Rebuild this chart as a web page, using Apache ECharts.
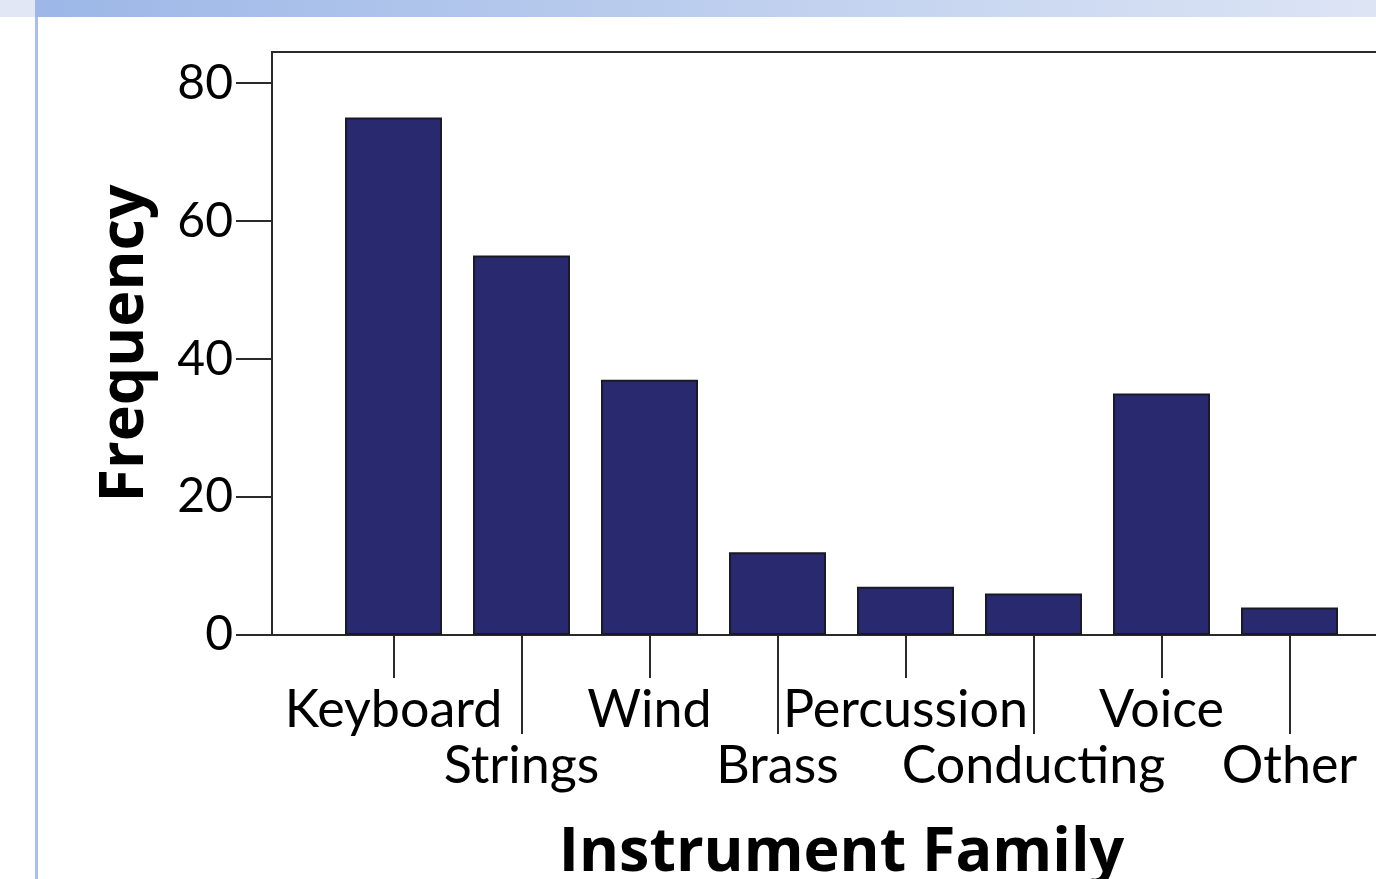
<!DOCTYPE html>
<html>
<head>
<meta charset="utf-8">
<title>Instrument Family</title>
<script src="https://cdn.jsdelivr.net/npm/echarts@6.0.0/dist/echarts.min.js"></script>
<style>
  html, body { margin: 0; padding: 0; background: #fff; }
  #page { position: relative; width: 1376px; height: 879px; overflow: hidden; }
  #band-left { position: absolute; left: 0; top: 0; width: 35px; height: 17px; background: #e1e7f5; }
  #band { position: absolute; left: 35px; top: 0; right: 0; height: 17px;
          background: linear-gradient(to right, #9cb7e7, #dde5f5); }
  #edge { position: absolute; left: 35px; top: 17px; width: 3px; bottom: 0; background: #a7bfea; }
  #chart { position: absolute; left: 0; top: 0; width: 1376px; height: 879px; }
</style>
</head>
<body>
<div id="page">
  <div id="chart"></div>
  <div id="band-left"></div>
  <div id="band"></div>
  <div id="edge"></div>
</div>
<script>
const categories = ['Keyboard', 'Strings', 'Wind', 'Brass', 'Percussion', 'Conducting', 'Voice', 'Other'];
const frequency = [75, 55, 37, 12, 7, 6, 35, 4];
const yTicks = [0, 20, 40, 60, 80];
const yMax = 84.5;

const chart = echarts.init(document.getElementById('chart'));

// even labels sit on the first row, odd ones drop to the second row
const isEven = (i) => i % 2 === 0;
const isOdd = (i) => i % 2 === 1;

const lineColor = '#2a2a2a';
const labelFont = { fontFamily: 'Lato', fontSize: 52, color: '#000' };
const titleFont = { fontFamily: 'Open Sans', fontWeight: 'bold', fontSize: 61, color: '#000' };

const option = {
    animation: false,
    backgroundColor: '#fff',
    grid: [
        // bars
        { left: 329.5, top: 52, width: 1024, height: 583, outerBoundsMode: 'none' },
        // frame + y axis
        { left: 272, top: 52, width: 1300, height: 583, outerBoundsMode: 'none',
          show: true, borderColor: lineColor, borderWidth: 2 }
    ],
    xAxis: [
        {
            type: 'category',
            gridIndex: 0,
            position: 'bottom',
            data: categories,
            axisLine: { show: false },
            axisTick: {
                show: true,
                alignWithLabel: true,
                interval: isEven,
                length: 43,
                lineStyle: { color: lineColor, width: 2 }
            },
            axisLabel: Object.assign({ interval: isEven, margin: 49 }, labelFont),
            name: 'Instrument Family',
            nameLocation: 'middle',
            nameGap: 188,
            nameTextStyle: titleFont
        },
        {
            type: 'category',
            gridIndex: 0,
            position: 'bottom',
            data: categories,
            axisLine: { show: false },
            axisTick: {
                show: true,
                alignWithLabel: true,
                interval: isOdd,
                length: 99,
                lineStyle: { color: lineColor, width: 2 }
            },
            axisLabel: Object.assign({ interval: isOdd, margin: 105 }, labelFont)
        },
        {
            type: 'value',
            gridIndex: 1,
            min: 0,
            max: 1,
            show: false
        }
    ],
    yAxis: [
        {
            type: 'value',
            gridIndex: 1,
            min: 0,
            max: yMax,
            axisLine: { show: true, lineStyle: { color: lineColor, width: 2 } },
            axisTick: {
                show: true,
                length: 36,
                customValues: yTicks,
                lineStyle: { color: lineColor, width: 2 }
            },
            axisLabel: {
                customValues: yTicks,
                margin: 39,
                fontFamily: 'Lato',
                fontSize: 48,
                color: '#000'
            },
            splitLine: { show: false },
            name: 'Frequency',
            nameLocation: 'middle',
            nameGap: 116,
            nameTextStyle: titleFont
        },
        {
            type: 'value',
            gridIndex: 0,
            min: 0,
            max: yMax,
            show: false
        }
    ],
    series: [
        {
            type: 'bar',
            xAxisIndex: 0,
            yAxisIndex: 1,
            data: frequency,
            barWidth: 97,
            itemStyle: { color: '#29296f', borderColor: '#1a1a26', borderWidth: 2 }
        }
    ]
};

chart.setOption(option);
</script>
</body>
</html>
